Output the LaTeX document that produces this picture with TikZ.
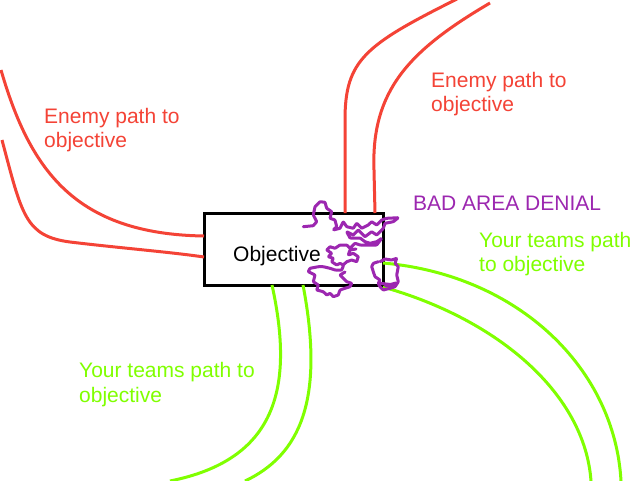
\documentclass[tikz,border=0pt]{standalone}
\usepackage{fontspec}
\setmainfont{Liberation Sans}
\definecolor{enemyred}{RGB}{244,67,54}
\definecolor{teamgreen}{RGB}{128,255,0}
\definecolor{denialpurple}{RGB}{156,39,176}
\tikzset{
  enemypath/.style={draw=enemyred, line width=3pt},
  teampath/.style={draw=teamgreen, line width=3pt},
  scribble/.style={draw=denialpurple, line width=3pt, line join=round, line cap=round, rounded corners=0.6pt},
  lbl/.style={anchor=base west, inner sep=0pt, font=\fontsize{21}{24}\selectfont},
  objbox/.style={draw=black, line width=3pt, minimum width=179pt, minimum height=72pt, inner sep=0pt}
}
\begin{document}
\begin{tikzpicture}[x=1pt,y=-1pt]
\useasboundingbox[fill=white] (0,0) rectangle (640,480);
% objective box
\node[objbox] (obj) at (293.5,249) {};
% free ends
\coordinate (rl1s) at (1,70);
\coordinate (rl1e) at (204,236);
\coordinate (rl2s) at (2,140);
\coordinate (rl2e) at (204,257);
\coordinate (rt1s) at (457,-1);
\coordinate (rt1e) at (345,213);
\coordinate (rt2s) at (490,3);
\coordinate (rt2e) at (375,213);
\coordinate (gb1s) at (272,285);
\coordinate (gb1e) at (170,481);
\coordinate (gb2s) at (303,285);
\coordinate (gb2e) at (245,481);
\coordinate (gr1s) at (383,263);
\coordinate (gr1e) at (621,481);
\coordinate (gr2s) at (383,287);
\coordinate (gr2e) at (591,481);
% enemy paths
\draw[enemypath] (rl1s) .. controls (30,170) and (75,234) .. (rl1e);
\draw[enemypath] (rl2s) .. controls (22,215) and (25,236) .. (70,242) .. controls (120,248) and (170,252) .. (rl2e);
\draw[enemypath] (rt1e) -- (345,120) .. controls (345,60) and (365,45) .. (rt1s);
\draw[enemypath] (rt2e) -- (374,170) .. controls (371,90) and (410,50) .. (rt2s);
% team paths
\draw[teampath] (gb1s) .. controls (295,390) and (275,460) .. (gb1e);
\draw[teampath] (gb2s) .. controls (325,400) and (300,455) .. (gb2e);
\draw[teampath] (gr1s) .. controls (520,275) and (615,370) .. (gr1e);
\draw[teampath] (gr2s) .. controls (500,320) and (585,395) .. (gr2e);
% texts
\node[lbl] (objtxt) at (233,261) {Objective};
\node[lbl, text=enemyred] (el1) at (44,123) {Enemy path to};
\node[lbl, text=enemyred] (el2) at (44,147) {objective};
\node[lbl, text=enemyred] (er1) at (431,87) {Enemy path to};
\node[lbl, text=enemyred] (er2) at (431,111) {objective};
\node[lbl, text=denialpurple] (bad) at (413,210) {BAD AREA DENIAL};
\node[lbl, text=teamgreen] (yr1) at (479,247) {Your teams path};
\node[lbl, text=teamgreen] (yr2) at (479,271) {to objective};
\node[lbl, text=teamgreen] (yl1) at (79,377) {Your teams path to};
\node[lbl, text=teamgreen] (yl2) at (79,402) {objective};
% scribble (bad area denial)
\draw[scribble] (303.3,226.7) -- (313.3,225.7) -- (316.7,221.7) -- (313.3,215) -- (315,206.7) -- (320,201.7) -- (325,202.3) -- (326.7,208.3) -- (331.7,211.7) -- (330,218.3) -- (335,220) -- (336.7,226.7) -- (333.3,230) -- (340,228.3) -- (343.3,221.7) -- (346.7,226.7) -- (353.3,228.3) -- (356.7,223.3) -- (361.7,228.3) -- (368.3,225) -- (371.7,221.7) -- (376.7,225) -- (381.7,220) -- (386.7,218.3) -- (398.3,217.7) -- (393.3,221.7) -- (385,223.3) -- (383.3,228.3) -- (380,231.7) -- (376.7,235) -- (371.7,231.7) -- (365,236.7) -- (358.3,230) -- (353.3,235) -- (346.7,231.7) -- (350,238) -- (360,238) -- (365,241.7) -- (370,243.3) -- (376.7,241.7) -- (381.7,238.3) -- (376.7,245) -- (360,245) -- (355,243.3) -- (350,248.3) -- (346.7,245) -- (340,245) -- (335,248.3) -- (330,246.7) -- (326.7,250) -- (331.7,253.3) -- (328.3,256.7) -- (333.3,258.3) -- (331.7,261.7) -- (336.7,265) -- (340,263.3) -- (343.3,265) -- (346.7,261.7) -- (351.7,260) -- (356.7,261.7) -- (358.3,256.7) -- (353.3,253.3) -- (348.3,255) -- (350,250) -- (356,249);
\draw[scribble] (343.3,266) -- (341.7,270) -- (335,270) -- (330,268.3) -- (323.3,266.7) -- (318.3,266.7) -- (310,268.3) -- (308.3,271.7) -- (315,275) -- (313.3,281.7) -- (318.3,285) -- (316.7,290) -- (323.3,291.7) -- (326.7,295) -- (330,293.3) -- (333.3,296.7) -- (338.3,295) -- (340,290) -- (345,288.3) -- (350,286.7) -- (351.7,283.3) -- (346.7,281.7) -- (343.3,278.3) -- (340,275) -- (345,272);
\draw[scribble] (380,261.7) -- (385,259) -- (391.7,260) -- (396.7,258.3) -- (395,263.3) -- (398.3,266.7) -- (396.7,275) -- (398.3,281.7) -- (395,286.7) -- (390,288.3) -- (383.3,290) -- (380,286.7) -- (378.3,283.3) -- (380,280) -- (375,276.7) -- (373.3,271.7) -- (371.7,266.7) -- (373.3,263.3) -- (378.3,261.7);
\draw[scribble] (380,283.3) -- (395,285) -- (385,286) -- (396,283);
\end{tikzpicture}
\end{document}
